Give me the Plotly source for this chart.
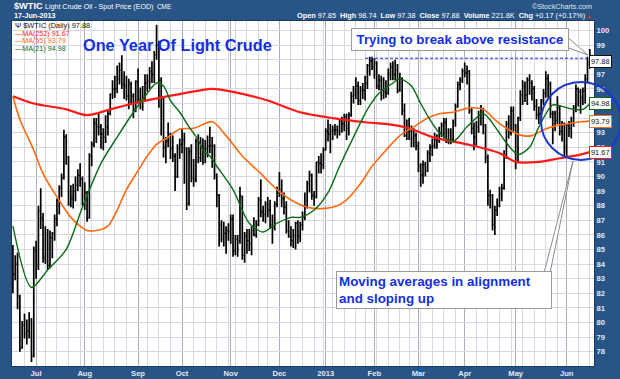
import plotly.graph_objects as go
import pandas as pd

# ---------------- data ----------------
holidays = ["2012-07-04", "2012-09-03", "2012-10-29", "2012-10-30", "2012-11-22",
            "2012-12-25", "2013-01-01", "2013-01-21", "2013-02-18", "2013-03-29",
            "2013-05-27"]
dates = [d for d in pd.bdate_range("2012-06-18", "2013-06-17")
         if d.strftime("%Y-%m-%d") not in holidays]

open_ = [
    83.9, 83.3, 84.0, 81.7, 78.3, 79.8, 79.2, 79.4, 80.1, 77.8,
    84.9, 83.9, 87.6, 87.1, 84.4, 86.0, 83.9, 85.8, 86.1, 87.1, 88.4, 89.2, 89.9, 92.7, 91.3, 88.2, 88.5, 89.0, 89.4, 90.1, 89.8,
    88.1, 88.9, 87.2, 91.4, 92.2, 93.6, 93.4, 93.4, 92.9, 92.7, 93.4, 94.3, 95.6, 96.0, 96.0, 96.7, 97.3, 96.3, 96.2, 95.5, 96.3, 95.5, 94.6,
    96.5, 95.3, 95.4, 95.5, 96.4, 96.5, 97.2, 97.0, 98.3, 99.0, 96.6, 95.3, 92.0, 92.4, 92.9, 91.9, 91.4, 90.0, 91.9,
    92.2, 92.5, 91.9, 88.2, 91.7, 89.9, 89.8, 92.4, 91.3, 92.1, 91.9, 91.9, 92.1, 92.1, 92.1, 90.0, 88.7, 86.7, 85.7, 86.1, 86.3,
    86.2, 87.1, 84.9, 85.7, 85.6, 88.6, 84.6, 85.9, 85.6, 85.4, 86.3, 86.0, 86.7, 88.4, 87.6, 87.4, 88.1, 87.7, 86.7, 86.5, 88.1,
    88.9, 89.1, 88.5, 87.9, 86.3, 85.9, 85.6, 86.0, 86.8, 85.9, 86.7, 87.2, 87.9, 89.5, 90.1, 88.7, 88.6, 91.0, 90.9, 90.8,
    91.8, 93.1, 92.9, 93.1, 93.2, 93.2, 93.1, 93.8, 93.6, 94.1, 93.3, 94.2, 95.5, 95.6, 96.2, 95.2, 95.9, 95.9, 96.4, 97.6, 97.9,
    97.5, 97.8, 96.2, 96.6, 96.6, 95.8, 95.7, 97.0, 97.5, 97.0, 97.3, 95.9, 96.7, 94.5, 92.8, 93.1, 93.1, 92.6, 92.8,
    92.1, 90.7, 90.1, 90.8, 90.4, 91.6, 92.0, 92.1, 92.5, 92.5, 93.0, 93.5, 93.7, 92.4, 93.0, 92.5, 93.7, 94.8, 96.3, 96.6,
    97.2, 97.1, 97.2, 94.5, 93.3, 92.7, 93.4, 94.2, 94.6, 93.5, 91.3, 88.7, 88.7, 86.7, 87.7, 88.0, 88.8, 89.2, 91.4, 93.6, 93.0, 94.5,
    93.5, 91.0, 94.0, 95.6, 96.2, 95.6, 96.6, 96.4, 96.0, 94.8, 94.2, 94.3, 95.2, 95.7, 96.7, 96.3, 94.3, 94.3, 93.8, 94.7, 93.1, 93.6,
    92.0, 93.5, 93.3, 93.7, 94.7, 96.0, 95.8, 95.4, 95.9, 96.7, 97.85,
]
high = [
    85.3, 84.6, 84.8, 81.9, 80.1, 80.6, 80.2, 80.7, 80.3, 85.2,
    85.6, 88.0, 89.2, 87.5, 86.6, 86.4, 86.3, 86.2, 87.4, 88.5, 89.4, 90.2, 93.2, 92.9, 91.4, 89.4, 89.5, 90.0, 90.5, 90.9, 90.0,
    89.6, 89.0, 91.6, 92.4, 94.0, 94.0, 94.3, 93.6, 93.3, 94.2, 94.6, 95.7, 96.6, 96.9, 97.6, 97.8, 98.3, 97.2, 96.9, 96.7, 96.5, 95.7, 96.6,
    97.4, 96.1, 96.2, 97.0, 97.0, 97.5, 97.9, 98.6, 100.4, 99.3, 96.8, 95.4, 92.7, 93.7, 93.0, 92.8, 91.6, 92.2, 92.6,
    93.3, 93.0, 92.0, 92.0, 92.2, 91.2, 92.6, 92.9, 92.7, 92.6, 92.5, 92.8, 93.4, 92.7, 92.2, 90.2, 88.8, 87.0, 86.9, 86.6, 86.8,
    87.4, 87.4, 86.0, 86.0, 89.3, 88.7, 86.2, 86.4, 86.4, 86.6, 87.2, 87.0, 88.6, 89.8, 88.0, 88.3, 88.6, 88.4, 87.4, 88.3, 89.3,
    90.3, 89.8, 88.9, 88.3, 87.0, 86.6, 86.4, 86.9, 87.0, 86.9, 87.6, 88.9, 89.7, 90.4, 90.2, 89.0, 91.0, 91.4, 91.6, 92.0,
    93.3, 93.9, 93.6, 93.5, 93.6, 93.5, 94.0, 94.1, 94.3, 94.3, 94.4, 95.8, 96.2, 96.8, 96.5, 96.2, 96.4, 96.9, 97.7, 98.2, 98.2,
    98.1, 97.9, 97.0, 96.9, 96.8, 96.6, 97.4, 97.8, 97.9, 98.0, 97.7, 97.1, 96.8, 95.0, 93.9, 94.0, 93.5, 93.3, 93.0,
    92.4, 90.9, 91.1, 91.0, 91.8, 92.2, 92.6, 93.0, 92.9, 93.4, 93.7, 94.0, 94.0, 93.3, 93.3, 93.9, 95.0, 96.5, 96.8, 97.4,
    97.8, 97.6, 97.3, 94.7, 93.7, 93.8, 94.5, 94.9, 94.7, 93.6, 91.5, 89.1, 88.8, 88.0, 88.5, 89.3, 89.5, 91.8, 93.8, 94.2, 94.8, 94.8,
    93.6, 94.1, 95.9, 96.6, 96.5, 96.8, 97.0, 96.6, 96.2, 95.3, 94.8, 95.3, 96.0, 97.2, 97.0, 96.5, 94.5, 94.5, 95.5, 94.9, 93.8, 93.7,
    93.6, 93.8, 94.1, 94.9, 96.3, 96.1, 96.0, 96.1, 97.0, 98.2, 98.74,
]
low = [
    82.0, 82.9, 80.9, 78.0, 78.2, 78.9, 78.5, 78.9, 77.3, 77.6,
    83.0, 83.6, 86.4, 84.1, 84.0, 83.6, 83.7, 84.4, 85.6, 86.6, 87.4, 88.6, 89.8, 90.8, 88.0, 87.9, 87.8, 88.3, 89.0, 89.3, 88.0,
    87.7, 86.9, 87.1, 90.7, 92.0, 92.3, 92.8, 91.9, 91.8, 92.3, 92.8, 94.2, 95.3, 95.4, 95.7, 96.3, 96.0, 95.3, 95.2, 94.6, 95.0, 94.0, 94.4,
    95.0, 94.6, 94.5, 95.1, 95.8, 96.0, 96.4, 96.4, 98.0, 94.7, 92.8, 91.3, 90.9, 92.0, 91.2, 91.0, 89.0, 89.9, 91.2,
    91.6, 89.5, 87.7, 88.0, 89.6, 89.3, 89.6, 90.9, 91.0, 90.8, 90.9, 91.3, 91.6, 90.6, 89.8, 87.9, 85.2, 85.5, 85.2, 84.7, 85.6,
    85.4, 84.5, 84.6, 84.5, 85.4, 84.3, 84.1, 84.7, 84.9, 84.6, 85.9, 85.8, 86.6, 87.2, 86.9, 86.8, 87.2, 86.4, 85.4, 86.3, 87.9,
    88.6, 87.9, 87.4, 86.1, 85.8, 85.2, 85.1, 85.0, 85.4, 85.5, 86.3, 87.0, 87.8, 88.9, 88.4, 88.0, 88.5, 90.2, 90.2, 90.5,
    91.8, 92.4, 91.6, 92.5, 92.8, 92.6, 92.8, 93.0, 93.1, 92.5, 92.8, 94.1, 95.0, 95.3, 94.9, 94.9, 95.3, 95.2, 96.0, 96.9, 97.3,
    96.7, 96.0, 95.9, 95.2, 95.3, 95.4, 95.6, 96.6, 96.6, 96.6, 95.7, 95.8, 94.2, 92.7, 92.5, 92.5, 92.0, 92.0, 91.8,
    90.3, 89.3, 89.5, 90.0, 90.3, 91.0, 91.4, 91.9, 91.9, 92.3, 92.7, 92.6, 92.3, 92.2, 92.2, 92.4, 93.4, 94.7, 95.9, 96.4,
    96.8, 96.3, 94.3, 92.9, 91.8, 92.1, 93.0, 93.5, 92.9, 90.9, 88.0, 87.8, 86.3, 86.0, 87.3, 87.9, 88.3, 89.1, 91.2, 92.6, 92.8, 93.1,
    90.5, 90.9, 93.8, 94.9, 95.1, 94.9, 95.6, 95.2, 94.5, 93.9, 93.6, 93.9, 94.9, 95.4, 95.4, 94.0, 92.2, 93.1, 93.6, 92.8, 92.4, 91.4,
    91.3, 92.7, 92.6, 93.4, 94.4, 94.8, 94.3, 94.9, 95.0, 96.4, 97.38,
]
close = [
    83.3, 84.0, 81.8, 78.2, 79.8, 79.2, 79.4, 80.2, 77.7, 85.0,
    83.8, 87.7, 87.2, 84.5, 86.0, 83.9, 85.8, 86.1, 87.1, 88.4, 89.2, 89.9, 92.7, 91.4, 88.1, 88.5, 89.0, 89.4, 90.1, 89.8, 88.1,
    88.9, 87.1, 91.4, 92.2, 93.7, 93.4, 93.4, 92.9, 92.7, 93.4, 94.3, 95.6, 96.0, 96.0, 96.7, 97.3, 96.3, 96.2, 95.5, 96.3, 95.5, 94.6, 96.5,
    95.3, 95.4, 95.5, 96.4, 96.5, 97.2, 97.0, 98.3, 99.0, 96.6, 95.3, 92.0, 92.4, 92.9, 91.9, 91.4, 90.0, 91.9, 92.2,
    92.5, 91.9, 88.1, 91.7, 89.9, 89.8, 92.4, 91.3, 92.1, 91.9, 91.9, 92.1, 92.1, 92.1, 90.1, 88.7, 86.7, 85.7, 86.1, 86.3, 86.2,
    87.1, 84.9, 85.7, 85.0, 88.7, 84.6, 85.9, 85.6, 85.4, 86.3, 86.0, 86.7, 88.4, 87.6, 87.4, 88.1, 87.7, 86.7, 86.5, 88.1, 88.9,
    89.1, 88.5, 87.9, 86.3, 85.9, 85.6, 86.0, 86.8, 85.9, 86.7, 87.2, 87.9, 89.5, 90.1, 88.7, 88.6, 91.0, 90.9, 90.8, 91.8,
    93.1, 92.9, 93.1, 93.2, 93.2, 93.1, 93.8, 93.6, 94.1, 93.3, 94.2, 95.5, 95.6, 96.2, 95.2, 95.9, 95.9, 96.4, 97.6, 97.9, 97.5,
    97.8, 96.2, 96.6, 96.6, 95.8, 95.7, 97.0, 97.5, 97.0, 97.3, 95.9, 96.7, 94.5, 92.8, 93.1, 93.1, 92.6, 92.8, 92.1,
    90.7, 90.1, 90.8, 90.4, 91.6, 92.0, 92.1, 92.5, 92.5, 93.0, 93.5, 93.7, 92.4, 93.0, 92.5, 93.7, 94.8, 96.3, 96.6, 97.2,
    97.1, 97.2, 94.5, 93.3, 92.7, 93.4, 94.2, 94.6, 93.5, 91.3, 88.7, 88.7, 86.7, 87.7, 88.0, 88.8, 89.2, 91.4, 93.6, 93.0, 94.5, 93.5,
    91.0, 94.0, 95.6, 96.2, 95.6, 96.6, 96.4, 96.0, 94.8, 94.2, 94.3, 95.2, 95.7, 96.7, 96.3, 94.3, 94.3, 93.8, 94.7, 93.1, 93.6, 92.0,
    93.5, 93.3, 93.7, 94.7, 96.0, 95.8, 95.4, 95.9, 96.7, 97.7, 97.88,
]

# moving averages at these bar indices
ma21_idx = [0, 8, 15, 23, 30, 38, 45, 52, 58, 62, 65, 68, 72, 76, 80, 82, 85, 88, 95, 102, 108, 114,
            120, 124, 130, 136, 141, 147, 153, 158, 164, 167, 172, 176, 180, 184, 190, 196, 203, 209,
            213, 218, 223, 227, 233, 237, 242, 246, 249]
ma21_val = [86.6, 82.4, 83.6, 85.0, 87.9, 90.9, 92.7, 94.4, 95.7, 96.4, 96.2, 95.2, 94.4, 93.4, 92.5,
            91.8, 91.4, 90.7, 89.1, 86.8, 86.2, 86.8, 87.2, 87.2, 87.7, 88.9, 90.7, 92.7, 94.6, 95.7,
            96.4, 96.7, 96.2, 95.0, 93.9, 93.0, 92.4, 93.4, 94.3, 93.2, 92.3, 91.5, 92.0, 93.4, 94.9,
            94.8, 94.6, 94.6, 94.98]
ma55_idx = [0, 3, 9, 13, 19, 25, 29, 32, 36, 41, 45, 49, 54, 58, 62, 67, 72, 78, 86, 92, 99, 107,
            114, 121, 127, 133, 140, 144, 150, 155, 161, 167, 173, 179, 184, 190, 197, 203, 209, 214,
            220, 224, 229, 235, 239, 245, 249]
ma55_val = [95.5, 93.9, 91.8, 90.2, 88.6, 87.2, 86.6, 86.3, 86.3, 86.6, 87.7, 89.1, 90.4, 91.4, 92.2,
            92.7, 93.25, 93.3, 93.75, 92.8, 91.4, 90.2, 89.1, 88.3, 87.9, 87.8, 88.0, 88.4, 89.5, 90.7,
            91.8, 92.8, 93.4, 94.0, 94.3, 94.4, 94.7, 94.6, 93.75, 93.2, 92.8, 92.8, 93.2, 93.5, 93.6,
            93.75, 93.79]
ma252_idx = [0, 9, 23, 32, 42, 52, 67, 81, 86, 95, 110, 124, 138, 153, 161, 171, 181, 196, 210, 217,
             227, 236, 245, 249]
ma252_val = [95.5, 95.0, 94.6, 94.2, 94.6, 95.0, 95.5, 95.9, 96.0, 95.8, 95.2, 94.4, 94.0, 93.7, 93.6,
             93.3, 92.7, 92.2, 91.6, 91.0, 91.0, 91.25, 91.5, 91.67]

month_labels = ["Jul", "Aug", "Sep", "Oct", "Nov", "Dec", "2013", "Feb", "Mar", "Apr", "May", "Jun"]
resistance = 98.1
resistance_from = 152
stats = {"Open": "97.85", "High": "98.74", "Low": "97.38", "Close": "97.88",
         "Volume": "221.8K", "Chg": "+0.17 (+0.17%)"}

# ---------------- derived axis positions ----------------
idx = list(range(len(dates)))
month_pos = [i for i in idx[1:] if dates[i].month != dates[i - 1].month]
week_pos = [i for i in idx[1:] if dates[i].isocalendar()[1] != dates[i - 1].isocalendar()[1]]

# ---------------- styles ----------------
BG = "#285486"
FONT = "Liberation Sans, Arial, sans-serif"
AX_TXT = "#e4eaf2"
RED, ORANGE, GREEN = "#ff1a1a", "#ff6a10", "#0b6a14"
BLUE = "#1430e0"
W, H = 620, 379
L, R, T, B = 12, 594, 21, 366


def PX(x):
    return (x - L) / (R - L)


def PY(y):
    return (B - y) / (B - T)


fig = go.Figure()
fig.add_trace(go.Ohlc(
    x=idx, open=open_, high=high, low=low, close=close,
    increasing=dict(line=dict(color="#000000", width=1.7)),
    decreasing=dict(line=dict(color="#000000", width=1.7)),
    tickwidth=0.45, hoverinfo="skip"))
fig.add_trace(go.Scatter(x=ma252_idx, y=ma252_val, mode="lines",
                         line=dict(color=RED, width=2.2, shape="spline", smoothing=0.8)))
fig.add_trace(go.Scatter(x=ma55_idx, y=ma55_val, mode="lines",
                         line=dict(color=ORANGE, width=1.6, shape="spline", smoothing=0.8)))
fig.add_trace(go.Scatter(x=ma21_idx, y=ma21_val, mode="lines",
                         line=dict(color=GREEN, width=1.4, shape="spline", smoothing=0.8)))

ann = []


def text(x, y, s, size=7.5, color=AX_TXT, anchor="left", yref="paper", xref="paper", **kw):
    ann.append(dict(x=x, y=y, xref=xref, yref=yref, text=s, showarrow=False,
                    xanchor=anchor, yanchor="middle",
                    font=dict(family=FONT, size=size, color=color), **kw))


# header
text(PX(12), PY(6.5), "<b>$WTIC</b>", size=9.2, color="#ffffff")
text(PX(43), PY(6.8), "Light Crude Oil - Spot Price (EOD)", size=7.1, color="#ffffff")
text(PX(155), PY(6.8), "CME", size=6.4, color="#ffffff")
text(PX(12), PY(15.8), "<b>17-Jun-2013</b>", size=7.2, color="#ffffff")
text(PX(594), PY(6.8), "©StockCharts.com", size=7.2, color="#dfe6ee", anchor="right")
stat_txt = "  ".join(f"<b>{k}</b> {v}" for k, v in stats.items())
text(PX(587), PY(16), stat_txt, size=7.3, color="#ffffff", anchor="right")
text(PX(594), PY(16), "▲", size=6, color="#c8401c", anchor="right")

# in-plot legend
text(PX(13), PY(25), "Ψ $WTIC (Daily) 97.88", size=7.4, color="#111111")
text(PX(13), PY(33.3), "—MA(252) 91.67", size=7.2, color=RED)
text(PX(13), PY(40.8), "—MA(55) 93.79", size=7.2, color=ORANGE)
text(PX(13), PY(48.3), "—MA(21) 94.98", size=7.2, color=GREEN)

# title and comments
text(PX(177), PY(45), "<b>One Year Of Light Crude</b>", size=16.3, color=BLUE, anchor="center")
text(PX(460), PY(39.7), "<b>Trying to break above resistance</b>", size=13.3, color=BLUE,
     anchor="center", bgcolor="white", bordercolor="#9a9a9a", borderwidth=1, borderpad=2,
     width=212, height=17)
text(PX(444), PY(290), "<b>Moving averages in alignment<br>and sloping up</b>", size=13.4,
     color=BLUE, anchor="center", bgcolor="white", bordercolor="#9a9a9a", borderwidth=1,
     borderpad=2, width=210, height=32, align="left")

# last-value boxes on the price axis
for v, c in [(97.88, "#111111"), (94.98, GREEN), (93.79, ORANGE), (91.67, RED)]:
    text(PX(600), v, f"{v:.2f}", size=7.4, color="#111111", anchor="center", yref="y",
         bgcolor="white", bordercolor=c, borderwidth=1, borderpad=1)

shapes = [
    dict(type="line", xref="x", yref="y", x0=resistance_from, x1=idx[-1], y0=resistance, y1=resistance,
         line=dict(color=BLUE, width=1, dash="3px,2px"), layer="above"),
    dict(type="path", xref="paper", yref="paper",
         path=f"M {PX(566)},{PY(36)} L {PX(588)},{PY(55)} L {PX(566)},{PY(47)} Z",
         line=dict(color="#8a8a8a", width=1), fillcolor="white", layer="above"),
    dict(type="path", xref="paper", yref="paper",
         path=f"M {PX(544)},{PY(273)} L {PX(573)},{PY(161)} L {PX(550)},{PY(273)} Z",
         line=dict(color="#8a8a8a", width=1), fillcolor="white", layer="above"),
    dict(type="circle", xref="paper", yref="paper", x0=PX(541), x1=PX(621), y0=PY(160), y1=PY(82),
         line=dict(color="#1838c8", width=2), layer="above"),
]

fig.update_layout(
    width=W, height=H, autosize=False,
    margin=dict(l=L, r=W - R, t=T, b=H - B, pad=0, autoexpand=False),
    paper_bgcolor=BG, plot_bgcolor="white", showlegend=False,
    annotations=ann, shapes=shapes,
    xaxis=dict(range=[-0.4, 250.8], tickmode="array", tickvals=month_pos, ticktext=month_labels,
               showgrid=True, gridcolor="#a8aebb", gridwidth=1, ticks="", zeroline=False,
               tickfont=dict(family=FONT, size=7.6, color=AX_TXT, weight="bold"),
               minor=dict(tickmode="array", tickvals=week_pos, showgrid=True,
                          gridcolor="#d6d9e1", gridwidth=1),
               rangeslider=dict(visible=False), showline=True, linecolor="#1b3a5e", mirror=True,
               fixedrange=True, automargin=False),
    yaxis=dict(side="right", range=[77.02, 100.65], tickmode="linear", tick0=0, dtick=1,
               showgrid=True, gridcolor="#d6d9e1", gridwidth=1, ticks="", zeroline=False,
               tickfont=dict(family=FONT, size=7.6, color=AX_TXT, weight="bold"),
               showline=True, linecolor="#1b3a5e", mirror=True, fixedrange=True, automargin=False),
)

# make the page exactly the figure: no default body margin, no scrollbars
post = ("document.documentElement.style.margin='0';document.body.style.margin='0';"
        "document.documentElement.style.overflow='hidden';document.body.style.overflow='hidden';"
        "document.body.style.background='" + BG + "';"
        "var gd=document.getElementById('{plot_id}');gd.style.width='%dpx';gd.style.height='%dpx';"
        "Plotly.relayout(gd,{width:%d,height:%d});" % (W, H, W, H))
fig.write_html("out.html", config={"responsive": False, "displayModeBar": False}, post_script=post)
